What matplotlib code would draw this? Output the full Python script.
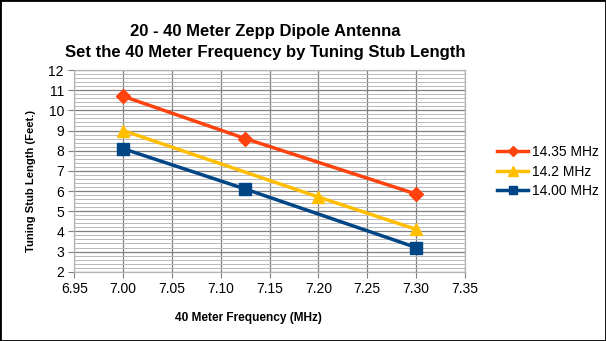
import matplotlib
matplotlib.use("Agg")
import matplotlib.pyplot as plt
from matplotlib.ticker import MultipleLocator, FormatStrFormatter
from matplotlib.patches import Rectangle

plt.rcParams['font.family'] = ['Liberation Sans', 'DejaVu Sans']

series_names = ["14.35 MHz", "14.2 MHz", "14.00 MHz"]
x_1435 = [7.00, 7.125, 7.30]
y_1435 = [10.7, 8.6, 5.85]
x_142 = [7.00, 7.20, 7.30]
y_142 = [9.0, 5.7, 4.1]
x_1400 = [7.00, 7.125, 7.30]
y_1400 = [8.1, 6.1, 3.2]

fig = plt.figure(figsize=(6.06, 3.41), dpi=100)
ax = fig.add_axes([0.1226, 0.2032, 0.6447, 0.5915])

ax.plot(x_1435, y_1435, color="#FF420E", lw=2.5, marker="D", ms=7, label=series_names[0], zorder=3)
ax.plot(x_142, y_142, color="#FFBF00", lw=2.5, marker="^", ms=9, label=series_names[1], zorder=3)
ax.plot(x_1400, y_1400, color="#004586", lw=2.5, marker="s", ms=8, label=series_names[2], zorder=3)

ax.set_xlim(6.95, 7.35)
ax.set_ylim(2, 12)
ax.xaxis.set_major_locator(MultipleLocator(0.05))
ax.xaxis.set_major_formatter(FormatStrFormatter("%.2f"))
ax.yaxis.set_major_locator(MultipleLocator(1))
ax.yaxis.set_minor_locator(MultipleLocator(0.2))
ax.grid(True, which="major", axis="both", color="#808080", lw=0.9, zorder=0)
ax.grid(True, which="minor", axis="y", color="#b8b8b8", lw=0.7, zorder=0)
ax.set_axisbelow(True)
for s in ax.spines.values():
    s.set_color("#b3b3b3")
    s.set_linewidth(0.9)
ax.tick_params(axis="both", which="major", labelsize=10, length=4, color="#808080", direction="out")
ax.tick_params(axis="y", which="minor", length=0)

ax.set_xlabel("40 Meter Frequency (MHz)", fontsize=8.6, fontweight="bold")
ax.set_ylabel("Tuning Stub Length (Feet.)", fontsize=8.1, fontweight="bold")
ax.xaxis.set_label_coords(0.446, -0.20)
ax.yaxis.set_label_coords(-0.098, 0.45)

fig.text(0.437, 0.878, "20 - 40 Meter Zepp Dipole Antenna\nSet the 40 Meter Frequency by Tuning Stub Length",
         ha="center", va="center", fontsize=12, fontweight="bold", linespacing=1.5)

leg = fig.legend(loc="center left", bbox_to_anchor=(0.8, 0.497), frameon=False, fontsize=10,
                 handlelength=2.2, handletextpad=0.3, labelspacing=0.42, markerscale=0.8)

fig.patches.append(Rectangle((0, 0), 1, 1, transform=fig.transFigure, fill=False,
                             edgecolor="black", lw=2, zorder=10))

fig.savefig("out.png", dpi=100)
